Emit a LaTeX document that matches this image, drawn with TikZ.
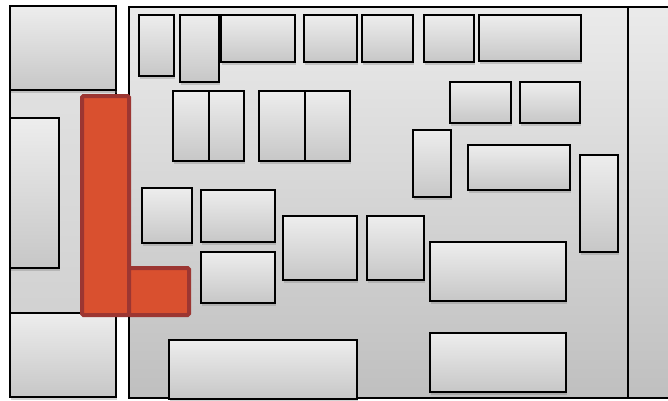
\documentclass[tikz,border=0pt]{standalone}
\usetikzlibrary{shadows}
\definecolor{redfill}{HTML}{D9502F}
\definecolor{redline}{HTML}{9C3632}
\tikzset{
  panel/.style={draw=black, line width=1.5pt, top color=black!8, bottom color=black!25},
  colpanel/.style={draw=black, line width=1.5pt, top color=black!10, bottom color=black!20},
  box/.style={draw=black, line width=2pt, top color=black!7, bottom color=black!22,
    drop shadow={opacity=0.35, shadow xshift=1pt, shadow yshift=-2.5pt}},
  redpart/.style={draw=redline, fill=redfill, line width=4pt, rounded corners=1.5pt}
}
\newcommand{\bx}[4]{\draw[box] (#1,#2) rectangle (#3,#4);}
\begin{document}
\begin{tikzpicture}[x=1pt,y=-1pt]
\useasboundingbox (0,0) rectangle (668,400);
\fill[white] (0,0) rectangle (668,400);
% left column
\draw[colpanel] (10,6) rectangle (116,397);
\bx{10}{6}{116}{90}
\bx{10}{118}{59}{268}
\bx{10}{313}{116}{397}
% main panel and right panel
\draw[panel, drop shadow={opacity=0.25, shadow xshift=2pt, shadow yshift=-1pt}] (129,7) rectangle (628,398);
\draw[panel] (628,7) rectangle (672,398);
% row 1
\bx{139}{15}{174}{76}
\bx{180}{15}{219}{82}
\bx{221}{15}{295}{62}
\bx{304}{15}{357}{62}
\bx{362}{15}{413}{62}
\bx{424}{15}{474}{62}
\bx{479}{15}{581}{61}
% right group
\bx{450}{82}{511}{123}
\bx{520}{82}{580}{123}
\bx{413}{130}{451}{197}
\bx{468}{145}{570}{190}
\bx{580}{155}{618}{252}
% double boxes
\bx{173}{91}{209}{161}
\bx{209}{91}{244}{161}
\bx{259}{91}{305}{161}
\bx{305}{91}{350}{161}
% middle
\bx{142}{188}{192}{243}
\bx{201}{190}{275}{242}
\bx{201}{252}{275}{303}
\bx{283}{216}{357}{280}
\bx{367}{216}{424}{280}
\bx{430}{242}{566}{301}
\bx{430}{333}{566}{392}
\bx{169}{340}{357}{399}
% red L
\draw[redpart] (82,96) rectangle (129,315);
\draw[redpart] (129,268) rectangle (189,315);
\end{tikzpicture}
\end{document}
